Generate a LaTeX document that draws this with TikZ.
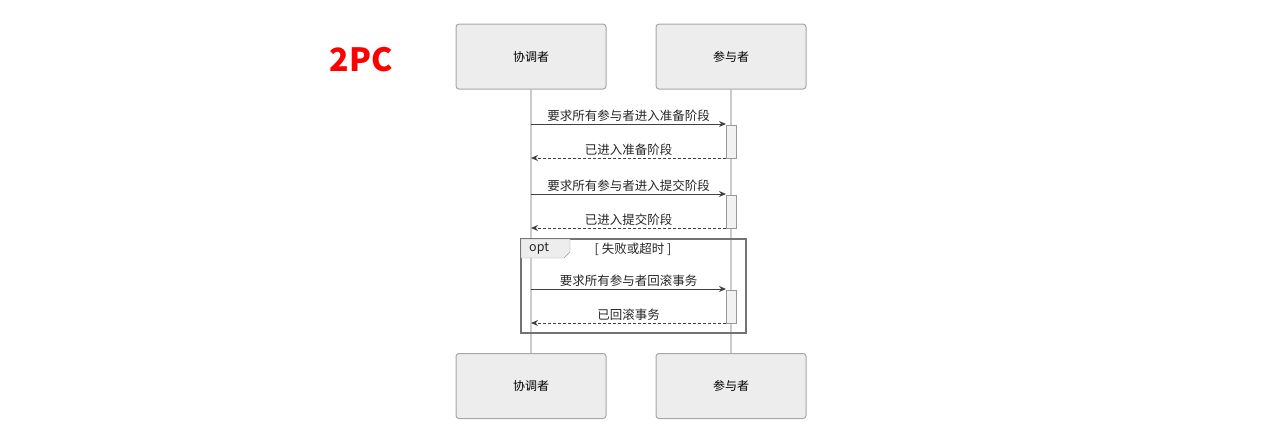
\documentclass[tikz,border=0pt]{standalone}
\usepackage{fontspec}
\setmainfont{Noto Sans CJK SC}
\usetikzlibrary{calc,arrows.meta}

\tikzset{
  actor/.style={draw=black!35, fill=black!7, rounded corners=3pt, line width=1pt, minimum width=150pt, minimum height=65pt, font=\fontsize{12}{14}\selectfont},
  msg/.style={draw=black!75, line width=1pt, -{Stealth[length=7pt,width=6pt]}},
  reply/.style={msg, dashed, dash pattern=on 3pt off 2pt},
  mlabel/.style={font=\fontsize{12.5}{14}\selectfont, text=black!85, inner sep=2pt},
  act/.style={draw=black!40, fill=black!5, line width=1pt}
}

\begin{document}
\begin{tikzpicture}[x=1pt,y=-1pt]
    \useasboundingbox (0,0) rectangle (1264,439);
    \node [font=\bfseries\fontsize{32}{36}\selectfont, text=red] (title) at (361,60) {2PC};

    \node [actor] (coTop) at (531,56.5) {协调者};
    \node [actor] (paTop) at (731,56.5) {参与者};
    \node [actor] (coBot) at (531,386) {协调者};
    \node [actor] (paBot) at (731,386) {参与者};

    % lifelines
    \draw [black!20, line width=1.2pt] (coTop.south) -- (coBot.north);
    \draw [black!20, line width=1.2pt] (paTop.south) -- (paBot.north);

    % activations
    \draw [act] (726,125) rectangle (736,158);
    \draw [act] (726,195) rectangle (736,228);
    \draw [act] (726,290) rectangle (736,323);

    % opt frame
    \draw [black!55, line width=1.2pt] (521,239) rectangle (746,333);
    \draw [black!40, fill=black!7] (521,239) -- (570,239) -- (570,252) -- (564,258) -- (521,258) -- cycle;
    \node [mlabel, anchor=west] (optTag) at (527,249) {opt};
    \node [mlabel] (optCond) at (633,249) {[ 失败或超时 ]};

    \coordinate (c1) at (531,124); \coordinate (p1) at (726,124);
    \coordinate (c2) at (531,158); \coordinate (p2) at (726,158);
    \coordinate (c3) at (531,194); \coordinate (p3) at (726,194);
    \coordinate (c4) at (531,228); \coordinate (p4) at (726,228);
    \coordinate (c5) at (531,289); \coordinate (p5) at (726,289);
    \coordinate (c6) at (531,323); \coordinate (p6) at (726,323);

    \draw [msg] (c1) -- node [mlabel, above=0pt] {要求所有参与者进入准备阶段} (p1);
    \draw [reply] (p2) -- node [mlabel, above=0pt] {已进入准备阶段} (c2);
    \draw [msg] (c3) -- node [mlabel, above=0pt] {要求所有参与者进入提交阶段} (p3);
    \draw [reply] (p4) -- node [mlabel, above=0pt] {已进入提交阶段} (c4);
    \draw [msg] (c5) -- node [mlabel, above=0pt] {要求所有参与者回滚事务} (p5);
    \draw [reply] (p6) -- node [mlabel, above=0pt] {已回滚事务} (c6);
\end{tikzpicture}
\end{document}
